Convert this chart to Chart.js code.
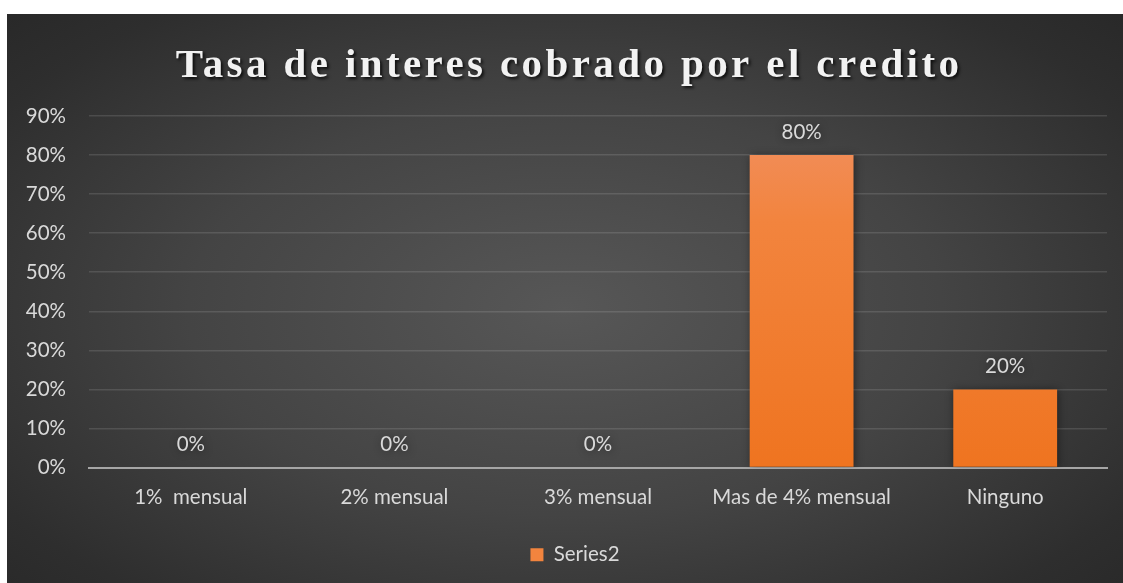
<!DOCTYPE html>
<html>
<head>
<meta charset="utf-8">
<script src="https://cdn.jsdelivr.net/npm/chart.js@4"></script>
<style>
  html, body { margin: 0; padding: 0; background: #fff; }
  #wrap {
    position: absolute; left: 7px; top: 14px; width: 1116px; height: 569px;
    background: radial-gradient(ellipse 75% 80% at 50% 52%, #575757 0%, #444 45%, #2e2e2e 80%, #262626 100%);
  }
</style>
</head>
<body>
<div id="wrap"><canvas id="trendChart"></canvas></div>
<script>
var titleText = 'Tasa de interes cobrado por el credito';
var categories = ['1%  mensual', '2% mensual', '3% mensual', 'Mas de 4% mensual', 'Ninguno'];
var series2 = [0, 0, 0, 80, 20];
var yTicks = [0, 10, 20, 30, 40, 50, 60, 70, 80, 90];

var txtColor = '#d9d9d9';
var labelFont = "Lato, 'Open Sans', sans-serif";
var fontSize = 20.5;

// titulo con espaciado entre letras
var titlePlugin = {
    id: 'bigTitle',
    afterDraw: function(chart) {
        var ctx = chart.ctx;
        ctx.save();
        ctx.font = "bold 41px 'Liberation Serif', 'Times New Roman', serif";
        ctx.letterSpacing = '3.4px';
        ctx.fillStyle = '#f2f2f2';
        ctx.textAlign = 'center';
        ctx.textBaseline = 'middle';
        ctx.shadowColor = 'rgba(0,0,0,0.75)';
        ctx.shadowOffsetX = 2;
        ctx.shadowOffsetY = 2;
        ctx.shadowBlur = 3;
        ctx.fillText(titleText, chart.width / 2 + 4, 52);
        ctx.restore();
    }
};

// etiquetas de valor sobre cada barra
var valuePlugin = {
    id: 'values',
    afterDatasetsDraw: function(chart) {
        var ctx = chart.ctx;
        var meta = chart.getDatasetMeta(0);
        ctx.save();
        ctx.font = fontSize + 'px ' + labelFont;
        ctx.fillStyle = txtColor;
        ctx.textAlign = 'center';
        ctx.textBaseline = 'middle';
        meta.data.forEach(function(bar, i) {
            ctx.fillText(series2[i] + '%', bar.x, bar.y - 23);
        });
        ctx.restore();
    }
};

var barShadow = {
    id: 'barShadow',
    beforeDatasetsDraw: function(chart) {
        chart.ctx.save();
        chart.ctx.shadowColor = 'rgba(0,0,0,0.45)';
        chart.ctx.shadowBlur = 8;
        chart.ctx.shadowOffsetX = 1;
        chart.ctx.shadowOffsetY = 1;
    },
    afterDatasetsDraw: function(chart) {
        chart.ctx.restore();
    }
};

// la leyenda queda algo a la derecha del centro
var legendShift = {
    id: 'legendShift',
    afterLayout: function(chart) {
        if (chart.legend) chart.legend.left += 36;
    }
};

function barFill(context) {
    var area = context.chart.chartArea;
    if (!area) return '#f07c2a';
    var g = context.chart.ctx.createLinearGradient(0, area.top, 0, area.bottom);
    g.addColorStop(0, '#f19062');
    g.addColorStop(0.3, '#f2843e');
    g.addColorStop(1, '#ef7420');
    return g;
}

var ctx = document.getElementById('trendChart');
var myChart = new Chart(ctx, {
    type: 'bar',
    data: {
        labels: categories,
        datasets: [{
            label: 'Series2',
            data: series2,
            backgroundColor: barFill,
            borderWidth: 0,
            barPercentage: 0.51,
            categoryPercentage: 1.0
        }]
    },
    options: {
        responsive: true,
        maintainAspectRatio: false,
        animation: false,
        layout: { padding: { top: 102, left: 0, right: 16, bottom: 8 } },
        plugins: {
            title: { display: false },
            tooltip: { enabled: false },
            legend: {
                position: 'bottom',
                labels: {
                    color: txtColor,
                    font: { family: labelFont, size: fontSize },
                    boxWidth: 13,
                    boxHeight: 13,
                    padding: 14,
                    generateLabels: function(chart) {
                        return [{ text: 'Series2', fillStyle: '#f2843e', strokeStyle: '#f2843e', lineWidth: 0, fontColor: txtColor }];
                    }
                }
            }
        },
        scales: {
            x: {
                grid: { display: false, drawTicks: false },
                border: { display: true, color: '#a6a6a6', width: 2 },
                ticks: {
                    color: txtColor,
                    font: { family: labelFont, size: fontSize },
                    padding: 18
                },
                afterFit: function(axis) { axis.height = 63; }
            },
            y: {
                min: 0,
                max: 90,
                afterBuildTicks: function(axis) {
                    axis.ticks = yTicks.map(function(v) { return { value: v }; });
                },
                grid: { color: 'rgba(255,255,255,0.12)', drawTicks: false, lineWidth: 1.5 },
                border: { display: false },
                ticks: {
                    color: txtColor,
                    font: { family: labelFont, size: fontSize },
                    padding: 23,
                    callback: function(v) { return v + '%'; }
                },
                afterFit: function(axis) { axis.width = 82; }
            }
        }
    },
    plugins: [titlePlugin, valuePlugin, barShadow, legendShift]
});
</script>
</body>
</html>
